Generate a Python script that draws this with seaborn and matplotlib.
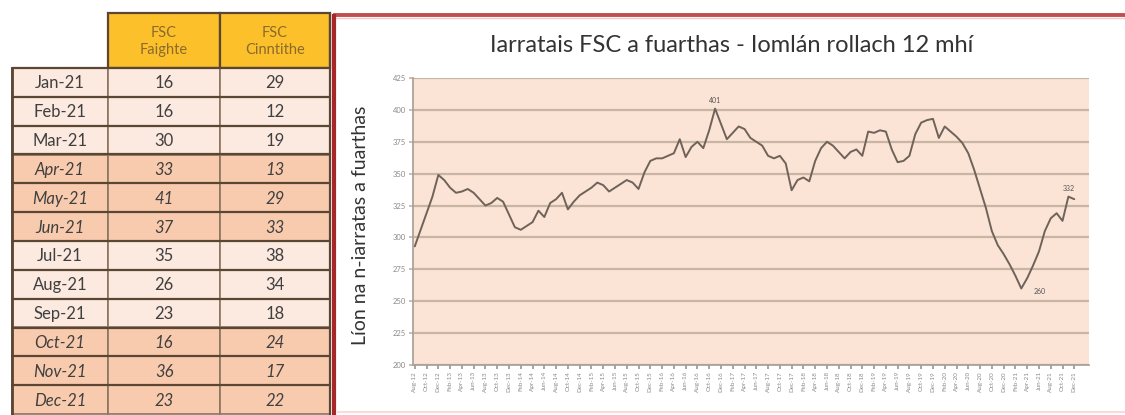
import numpy as np
import pandas as pd
import matplotlib
matplotlib.use("Agg")
import matplotlib.pyplot as plt
import seaborn as sns
from matplotlib.patches import Rectangle

# ---------------- data ----------------
table_months = ["Jan-21", "Feb-21", "Mar-21", "Apr-21", "May-21", "Jun-21",
                "Jul-21", "Aug-21", "Sep-21", "Oct-21", "Nov-21", "Dec-21"]
fsc_faighte = [16, 16, 30, 33, 41, 37, 35, 26, 23, 16, 36, 23]
fsc_cinntithe = [29, 12, 19, 13, 29, 33, 38, 34, 18, 24, 17, 22]
col_headers = ["FSC\nFaighte", "FSC\nCinntithe"]

period_months = pd.date_range("2012-08-01", "2021-12-01", freq="MS").strftime("%b-%y").tolist()
rolling_total = [
    293, 306, 319, 332, 349, 345, 339, 335, 336, 338,
    335, 330, 325, 327, 331, 328, 318, 308, 306, 309,
    312, 321, 316, 327, 330, 335, 322, 328, 333, 336,
    339, 343, 341, 336, 339, 342, 345, 343, 338, 351,
    360, 362, 362, 364, 366, 377, 363, 371, 375, 370,
    384, 401, 389, 377, 382, 387, 385, 378, 375, 372,
    364, 362, 364, 358, 337, 345, 347, 344, 360, 370,
    375, 372, 367, 362, 367, 369, 364, 383, 382, 384,
    383, 369, 359, 360, 364, 381, 390, 392, 393, 378,
    387, 383, 379, 374, 366, 353, 338, 323, 305, 294,
    287, 279, 270, 260, 268, 278, 289, 305, 315, 319,
    313, 332, 330,
]
point_labels = {51: "401", 103: "260", 111: "332"}

chart_title = "Iarratais FSC a fuarthas - Iomlán rollach 12 mhí"
y_label = "Líon na n-iarratas a fuarthas"

# ---------------- style ----------------
sns.set_theme(style="white")
plt.rcParams['font.family'] = ['Lato', 'DejaVu Sans']

W, H = 1125, 415
fig = plt.figure(figsize=(W / 100, H / 100), dpi=100)
fig.patch.set_facecolor('white')

bg = fig.add_axes([0, 0, 1, 1], zorder=0)
bg.set_xlim(0, W)
bg.set_ylim(H, 0)
bg.axis('off')

# chart frame
bg.add_patch(Rectangle((334, 14), W - 334, 400, facecolor='white', edgecolor='none'))
bg.plot([333, W], [15, 15], color='#C0504D', lw=2.8, solid_capstyle='butt')
bg.plot([335, W], [18, 18], color='#F4C9C8', lw=1.0, solid_capstyle='butt')
bg.plot([334, 334], [14, H], color='#A8282A', lw=3.0, solid_capstyle='butt')
bg.plot([337, W], [412, 412], color='#F8DCDA', lw=1.5, solid_capstyle='butt')

# table
x_edges = [12, 108, 220, 330]
header_top, header_bot = 13, 68
row_h = (414 - header_bot) / 12
light, dark = '#FCE9E0', '#F9CBAE'
hdr, border, inner = '#FBC02A', '#5A4632', '#8A7460'
text_col = '#404040'

for j in range(2):
    x0, x1 = x_edges[j + 1], x_edges[j + 2]
    bg.add_patch(Rectangle((x0, header_top), x1 - x0, header_bot - header_top,
                           facecolor=hdr, edgecolor=border, lw=1.6))
    bg.text((x0 + x1) / 2, (header_top + header_bot) / 2 + 1, col_headers[j],
            ha='center', va='center', fontsize=10.5, color='#8A6A2E', linespacing=1.25)

for i, m in enumerate(table_months):
    y0 = header_bot + i * row_h
    shaded = (i // 3) % 2 == 1
    fc = dark if shaded else light
    style = 'italic' if shaded else 'normal'
    for j in range(3):
        bg.add_patch(Rectangle((x_edges[j], y0), x_edges[j + 1] - x_edges[j], row_h,
                               facecolor=fc, edgecolor=inner, lw=1.2))
    bg.plot([x_edges[0], x_edges[-1]], [y0, y0], color=border, lw=1.6)
    vals = [m, str(fsc_faighte[i]), str(fsc_cinntithe[i])]
    for j, v in enumerate(vals):
        bg.text((x_edges[j] + x_edges[j + 1]) / 2, y0 + row_h / 2 + 1, v,
                ha='center', va='center', fontsize=12, style=style, color=text_col)
bg.plot([x_edges[0], x_edges[0]], [header_bot, H], color=border, lw=2.0)
bg.plot([x_edges[3], x_edges[3]], [header_top, H], color=border, lw=1.6)

# ---------------- line chart ----------------
ax = fig.add_axes([413 / W, 1 - 365 / H, (1089 - 413) / W, (365 - 78) / H], zorder=2)
ax.set_facecolor('#FBE4D5')
df = pd.DataFrame({'idx': np.arange(len(rolling_total)), 'total': rolling_total})
sns.lineplot(data=df, x='idx', y='total', ax=ax, color='#6E625A', lw=1.4)

ax.set_ylim(200, 425)
ax.set_yticks(range(200, 426, 25))
ax.set_xlim(-0.3, 114.5)
ax.set_xticks(df['idx'][::2])
ax.set_xticklabels(period_months[::2], rotation=90, fontsize=4.5, color='#8a8a8a')
ax.tick_params(axis='y', labelsize=5.5, labelcolor='#8a8a8a', length=3, color='#C9B5A3', pad=2, left=True)
ax.tick_params(axis='x', length=3, color='#999999', pad=1.5, bottom=True)
ax.grid(axis='y', color='#C9B5A3', lw=1.6)
ax.set_axisbelow(True)
for s in ['top', 'right']:
    ax.spines[s].set_visible(False)
ax.spines['left'].set_color('#A9A09A')
ax.spines['bottom'].set_color('#A9A09A')
ax.set_xlabel('')
ax.set_ylabel('')

offsets = {51: (0, 6), 103: (13, -2), 111: (0, 6)}
for i, txt in point_labels.items():
    ax.annotate(txt, (i, rolling_total[i]), xytext=offsets[i], textcoords='offset points',
                ha='center', va='center', fontsize=5, color='#555555')

fig.text(732 / W, 1 - 45 / H, chart_title, ha='center', va='center', fontsize=17, color='#333333')
fig.text(360 / W, 1 - 225 / H, y_label, ha='center', va='center', rotation=90, fontsize=14, color='#333333')

fig.savefig('out.png', dpi=100)
